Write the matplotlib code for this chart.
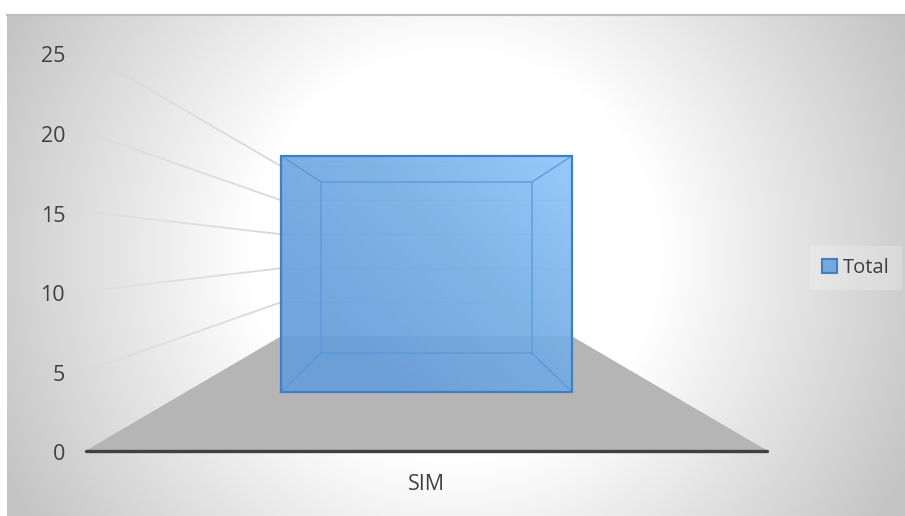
import numpy as np
import matplotlib
matplotlib.use('Agg')
import matplotlib.pyplot as plt
from matplotlib.collections import LineCollection
from matplotlib.colors import LinearSegmentedColormap
from matplotlib.patches import Patch, Polygon
from matplotlib.transforms import ScaledTranslation

categories = ['SIM']
totals = [21]
y_ticks = [0, 5, 10, 15, 20, 25]
series_name = 'Total'

W, H = 905, 516
BAR_WIDTH = 0.605
# perspective: scale of the front of the floor is 1, things shrink toward the vanishing point
VANISH_X, VANISH_Y = 0.5, 12.53
BACK_WALL = 0.426
BAR_FRONT, BAR_BACK = 0.7068, 0.511

TEXT = '#404040'
plt.rcParams['font.family'] = ['Open Sans', 'DejaVu Sans']


def project(x, v, s):
    """x in category units, v in value units, s the perspective scale"""
    return VANISH_X + (x - VANISH_X) * s, VANISH_Y + (v - VANISH_Y) * s


fig = plt.figure(figsize=(W / 100, H / 100), dpi=100, facecolor='white')

# chart area with radial background
bg = fig.add_axes([7 / W, 0, 1 - 7 / W, 1 - 14 / H], zorder=0)
bg.axis('off')
yy, xx = np.mgrid[14:516:251j, 7:905:449j]
r = np.hypot(xx - 455, yy - 255)
shade = np.clip((r - 205) / 300, 0, 1)
bg_cmap = LinearSegmentedColormap.from_list('bg', ['#ffffff', '#c4c4c4'])
bg.imshow(shade, cmap=bg_cmap, vmin=0, vmax=1, aspect='auto', interpolation='bilinear')
fig.add_artist(plt.Line2D([7 / W, 1], [1 - 15 / H] * 2, color='#bdbdbd', lw=1.5))

ax = fig.add_axes([86 / W, (H - 450.5) / H, 681 / W, 398 / H], zorder=1)
ax.patch.set_visible(False)
ax.set_xlim(0, 1)
ax.set_ylim(0, 25)

# floor
floor = [project(0, 0, 1), project(1, 0, 1), project(1, 0, BACK_WALL), project(0, 0, BACK_WALL)]
ax.add_patch(Polygon(floor, closed=True, fc='#b5b5b5', ec='none', zorder=1))

# gridlines on the side wall, fading toward the front, and on the back wall
steps = np.linspace(1, BACK_WALL, 40)
for tick in y_ticks[1:]:
    pts = np.array([project(0, tick, s) for s in steps])
    segs = np.stack([pts[:-1], pts[1:]], axis=1)
    alpha = np.linspace(0.0, 1.0, len(segs)) ** 0.6
    colors = [(0.84, 0.84, 0.84, a) for a in alpha]
    ax.add_collection(LineCollection(segs, colors=colors, linewidths=1.3, zorder=2))
    bx, by = zip(project(0, tick, BACK_WALL), project(1, tick, BACK_WALL))
    ax.plot(bx, by, color='#d8d8d8', lw=0.9, zorder=2)

# axis line
ax.plot([0, 1], [0, 0], color=TEXT, lw=2.4, solid_capstyle='round', clip_on=False, zorder=3)

# bar
x0, x1 = 0.5 - BAR_WIDTH / 2, 0.5 + BAR_WIDTH / 2
value = totals[0]
fx0, fb = project(x0, 0, BAR_FRONT)
fx1, ft = project(x1, value, BAR_FRONT)
bx0, bb = project(x0, 0, BAR_BACK)
bx1, bt = project(x1, value, BAR_BACK)

gy, gx = np.mgrid[0:1:60j, 0:1:80j]
t = (gx * 0.55 + (1 - gy) * 0.45)
bar_cmap = LinearSegmentedColormap.from_list('bar', ['#679edb', '#75ade5', '#8fc5fc'])
rgba = bar_cmap(np.clip((t - 0.2) / 0.8, 0, 1))
rgba[..., 3] = 0.92
ax.imshow(rgba, extent=[fx0, fx1, fb, ft], origin='upper', aspect='auto', zorder=4,
          interpolation='bilinear')
ax.set_xlim(0, 1)
ax.set_ylim(0, 25)

# edges of the box going back, and its back rectangle
edge_in = '#5a99da'
ax.plot([bx0, bx1, bx1, bx0, bx0], [bb, bb, bt, bt, bb], color=edge_in, lw=1.1, alpha=0.85, zorder=5)
for (fx, fy), (kx, ky) in [((fx0, fb), (bx0, bb)), ((fx1, fb), (bx1, bb)),
                           ((fx0, ft), (bx0, bt)), ((fx1, ft), (bx1, bt))]:
    ax.plot([fx, kx], [fy, ky], color=edge_in, lw=1.1, alpha=0.85, zorder=5)
ax.plot([fx0, fx1, fx1, fx0, fx0], [fb, fb, ft, ft, fb], color='#3f80c4', lw=1.6, zorder=6,
        solid_joinstyle='miter')

ax.set_yticks(y_ticks)
ax.set_xticks([0.5])
ax.set_xticklabels(categories)
ax.tick_params(axis='both', length=0, labelcolor=TEXT, labelsize=15.5)
ax.tick_params(axis='y', pad=15)
ax.tick_params(axis='x', pad=17)
shift = ScaledTranslation(0, -2 / 100, fig.dpi_scale_trans)
for lab in ax.get_yticklabels():
    lab.set_transform(lab.get_transform() + shift)
for side in ax.spines.values():
    side.set_visible(False)

handle = Patch(fc='#75a8dc', ec='#3f80c4', lw=1.5, label=series_name)
fig.legend(handles=[handle], loc='center', bbox_to_anchor=(856 / W, 1 - 268 / H), frameon=True,
           fancybox=False, facecolor='white', framealpha=0.22, edgecolor='none',
           fontsize=14.5, labelcolor=TEXT, handlelength=0.75, handleheight=0.75, handletextpad=0.3,
           borderpad=0.62, borderaxespad=0)

fig.savefig('out.png', dpi=100)
